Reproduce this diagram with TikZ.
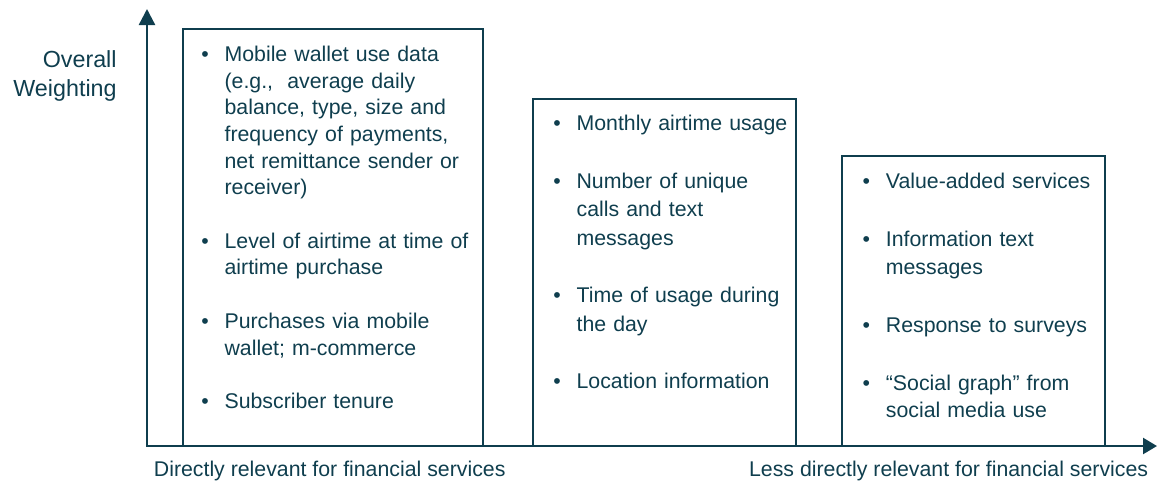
\documentclass[tikz,border=0pt]{standalone}
\usepackage{fontspec}
\setmainfont{Liberation Sans}
\usepackage{tikz}
\usetikzlibrary{arrows.meta, positioning}
\definecolor{inkteal}{RGB}{15,62,78}
\newlength{\bulletgap}
\newcommand{\bpt}[1]{\hangindent=11.6pt\hangafter=1\noindent\makebox[11.6pt][l]{\textbullet}#1\par}
\newcommand{\bsep}{\vspace{\bulletgap}}
\newcommand{\nl}{\hfil\break}
\tikzstyle{panel} = [rectangle, draw=inkteal, line width=1pt, outer sep=0pt, inner sep=0pt, anchor=south west]
\tikzstyle{points} = [anchor=north west, inner sep=0pt, text width=140pt, align=left, text=inkteal]
\tikzstyle{axis} = [draw=inkteal, line width=1.2pt, {Triangle[width=8pt,length=8pt]}-{Triangle[width=8pt,length=7pt]}]
\tikzstyle{caption} = [inner sep=0pt, text=inkteal, font=\fontsize{10.65}{13}\selectfont]

\begin{document}
\begin{tikzpicture}[x=0.5pt, y=-0.5pt]
        \useasboundingbox (0,0) rectangle (1158,484);
        \coordinate (origin) at (147,446);
        \coordinate (ytip) at (147,9);
        \coordinate (xtip) at (1157,446);

        \node (wallet) [panel, minimum width=150.15pt, minimum height=208.4pt] at (183,445.5) {};
        \node (airtime) [panel, minimum width=131.35pt, minimum height=173.25pt] at (533,445.5) {};
        \node (social) [panel, minimum width=131.65pt, minimum height=144.75pt] at (841.7,445.5) {};

        \node (walletpts) [points, below right=8.5pt and 9pt of wallet.north west, font=\fontsize{10.65}{13.33}\selectfont, execute at begin node={\setlength{\bulletgap}{13.4pt}}] {%
          \bpt{Mobile wallet use data\nl(e.g.,\ \ average daily\nl balance, type, size and\nl frequency of payments,\nl net remittance sender or\nl receiver)}\bsep
          \bpt{Level of airtime at time of\nl airtime purchase}\bsep
          \bpt{Purchases via mobile\nl wallet; m-commerce}\bsep
          \bpt{Subscriber tenure}};
        \node (airtimepts) [points, below right=7.9pt and 10pt of airtime.north west, font=\fontsize{10.65}{14.15}\selectfont, execute at begin node={\setlength{\bulletgap}{14.75pt}}] {%
          \bpt{Monthly airtime usage}\bsep
          \bpt{Number of unique\nl calls and text\nl messages}\bsep
          \bpt{Time of usage during\nl the day}\bsep
          \bpt{Location information}};
        \node (socialpts) [points, below right=8.2pt and 10.3pt of social.north west, font=\fontsize{10.65}{13.9}\selectfont, execute at begin node={\setlength{\bulletgap}{15.1pt}}] {%
          \bpt{Value-added services}\bsep
          \bpt{Information text\nl messages}\bsep
          \bpt{Response to surveys}\bsep
          \bpt{“Social graph” from\nl social media use}};

        \node (weight) [caption, anchor=north east, align=right, font=\fontsize{11.65}{14.5}\selectfont] at (117,50) {Overall\\Weighting};
        \node (direct) [caption, anchor=base west] at (153.5,476) {Directly relevant for financial services};
        \node (indirect) [caption, anchor=base east] at (1148.5,476) {Less directly relevant for financial services};

        \draw [axis] (ytip) -- (origin) -- (xtip);

        \end{tikzpicture}
\end{document}
